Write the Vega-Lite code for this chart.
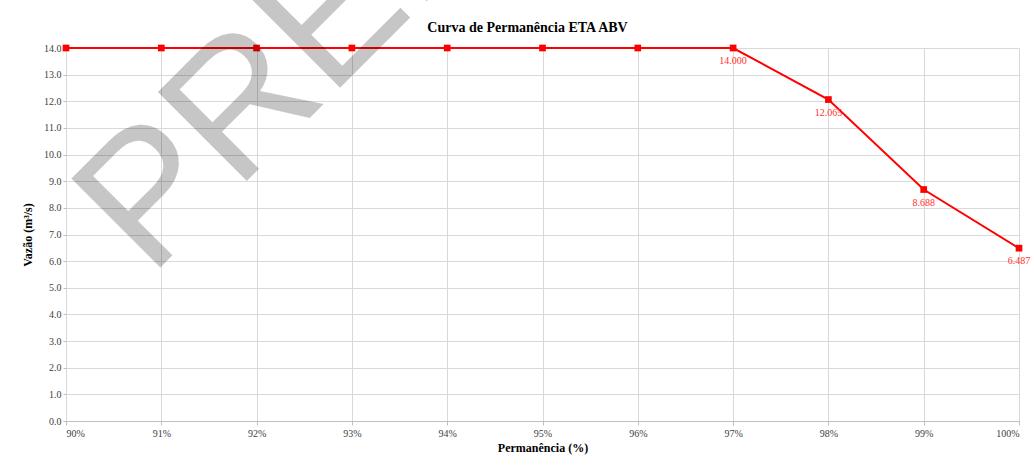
{
  "$schema": "https://vega.github.io/schema/vega-lite/v6.json",
  "autosize": {"type": "none"},
  "width": 953,
  "height": 373,
  "padding": {"left": 66, "top": 48, "right": 15, "bottom": 44},
  "background": "white",
  "config": {
    "view": {"stroke": null},
    "font": "Liberation Serif",
    "axis": {
      "labelFont": "Liberation Serif",
      "labelFontSize": 10,
      "labelColor": "#404040",
      "titleFont": "Liberation Serif",
      "titleFontSize": 12,
      "titleFontWeight": "bold",
      "titleColor": "#000000",
      "gridColor": "#d9d9d9",
      "gridWidth": 1,
      "domainColor": "#bfbfbf",
      "tickColor": "#bfbfbf"
    }
  },
  "data": {
    "values": [
      {"perm": 90, "vazao": 14.0, "label": ""},
      {"perm": 91, "vazao": 14.0, "label": ""},
      {"perm": 92, "vazao": 14.0, "label": ""},
      {"perm": 93, "vazao": 14.0, "label": ""},
      {"perm": 94, "vazao": 14.0, "label": ""},
      {"perm": 95, "vazao": 14.0, "label": ""},
      {"perm": 96, "vazao": 14.0, "label": ""},
      {"perm": 97, "vazao": 14.0, "label": "14.000"},
      {"perm": 98, "vazao": 12.065, "label": "12.065"},
      {"perm": 99, "vazao": 8.688, "label": "8.688"},
      {"perm": 100, "vazao": 6.487, "label": "6.487"}
    ]
  },
  "encoding": {
    "y": {
      "field": "vazao",
      "type": "quantitative",
      "scale": {"domain": [0, 14], "nice": false},
      "axis": {
        "title": "Vazão (m³/s)",
        "values": [0, 1, 2, 3, 4, 5, 6, 7, 8, 9, 10, 11, 12, 13, 14],
        "labelOverlap": false,
        "format": ".1f",
        "tickSize": 3,
        "labelPadding": 2,
        "titlePadding": 9,
        "domain": false,
        "grid": true
      }
    }
  },
  "layer": [
    {
      "mark": {"type": "line", "color": "#ff0000", "strokeWidth": 2, "clip": false},
      "encoding": {
        "x": {
          "field": "perm",
          "type": "quantitative",
          "scale": {"domain": [90, 100], "nice": false, "zero": false},
          "axis": {
            "title": "Permanência (%)",
            "orient": "bottom",
            "values": [90, 91, 92, 93, 94, 95, 96, 97, 98, 99, 100],
            "labelExpr": "datum.value + '%'",
            "tickSize": 4,
            "labelPadding": 3,
            "titlePadding": 4,
            "domain": true,
            "grid": true
          }
        }
      }
    },
    {
      "mark": {"type": "square", "color": "#ff0000", "size": 45, "opacity": 1, "filled": true, "clip": false},
      "encoding": {
        "x": {"field": "perm", "type": "quantitative", "axis": null}
      }
    },
    {
      "mark": {"type": "text", "color": "#ff3030", "font": "Liberation Serif", "fontSize": 10, "dy": 13, "align": "center"},
      "encoding": {
        "x": {"field": "perm", "type": "quantitative", "axis": null},
        "text": {"field": "label"}
      }
    },
    {
      "data": {"values": [{"perm": 90.88, "vazao": 5.37, "wtext": "PRELIMINAR"}]},
      "mark": {"type": "text", "font": "Liberation Sans", "fontSize": 183, "angle": -45, "align": "left", "baseline": "alphabetic", "color": "#000000", "opacity": 0.22, "clip": false},
      "encoding": {
        "x": {
          "field": "perm",
          "type": "quantitative",
          "axis": {
            "orient": "top",
            "title": "Curva de Permanência ETA ABV",
            "titleFontSize": 14,
            "titleFontWeight": "bold",
            "titlePadding": 14,
            "titleX": 461,
            "labels": false,
            "ticks": false,
            "domain": false,
            "grid": false
          }
        },
        "text": {"field": "wtext"}
      }
    }
  ],
  "resolve": {"axis": {"x": "independent"}}
}
